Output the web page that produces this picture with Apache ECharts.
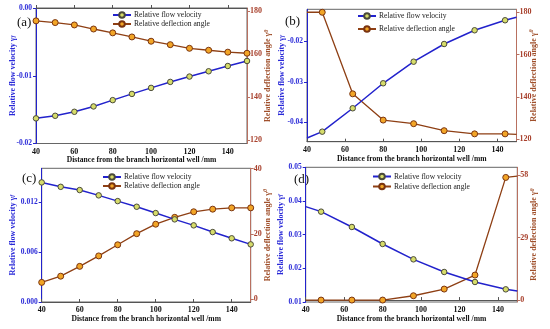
<!DOCTYPE html>
<html><head><meta charset="utf-8">
<script src="https://cdn.jsdelivr.net/npm/echarts@6/dist/echarts.min.js"></script>
<style>html,body{margin:0;padding:0;background:#fff}#c{width:550px;height:329px}</style>
</head><body><div id="c"></div>
<script>
// ---- data ----
const xA = [40,50,60,70,80,90,100,110,120,130,140,150];
const velA = [-0.01629,-0.01591,-0.01532,-0.01453,-0.01360,-0.01268,-0.01179,-0.01091,-0.01012,-0.00934,-0.00856,-0.00782];
const angA = [175.6,174.8,173.7,171.8,170.0,168.1,166.1,164.5,162.8,161.9,161.0,160.5];
const xB = [40,48,64,80,96,112,128,144,150];
const velB = [-0.04388,-0.04232,-0.03654,-0.03037,-0.02504,-0.02067,-0.01728,-0.01481,-0.01407];
const angB = [180,180,141.5,129.1,127.4,124.1,122.6,122.6,122.4];
const xC = [40,50,60,70,80,90,100,110,120,130,140,150];
const velC = [0.01440,0.01387,0.01348,0.01284,0.01215,0.01147,0.01071,0.00995,0.00923,0.00842,0.00767,0.00694];
const angC = [5.2,7.1,10.1,13.3,16.7,20.1,23.0,25.1,26.8,27.6,28.0,28.0];
const xD = [40,48,64,80,96,112,128,144,150];
const velD = [0.03832,0.03683,0.03228,0.02723,0.02267,0.01891,0.01594,0.01376,0.01327];
const angD = [0,0,0,0,2.0,5.1,11.6,56.9,57.5];

const xTicks = [40,60,80,100,120,140];
const leftTicksA = [-0.02,-0.01,0.00];
const rightTicksA = [120,140,160,180];
const leftTicksB = [-0.04,-0.03,-0.02];
const rightTicksB = [120,140,160,180];
const leftTicksC = [0.000,0.006,0.012];
const rightTicksC = [0,20,40];
const leftTicksD = [0.01,0.02,0.03,0.04,0.05];
const rightTicksD = [0,29,58];

const panelLabels = ['(a)','(b)','(c)','(d)'];
const seriesNames = ['Relative flow velocity','Relative deflection angle'];
const xName = 'Distance from the branch horizontal well /mm';

// ---- style ----
const FONT = 'Liberation Serif';
const BLUE = '#2222cc', BLUE_T = '#2a2ad8';
const BROWN = '#8e3f14', RED_T = '#a8402c', RAXIS = '#b87060';
const grids = [
  {left:36, top:8, width:211, height:135.5},
  {left:307, top:9.3, width:209.5, height:132.4},
  {left:41.7, top:168.3, width:209, height:133.7},
  {left:305.7, top:167.3, width:211.6, height:134.7}
];
const leftRanges = [[-0.02,0],[-0.0448,-0.0121],[0,0.0161],[0.01,0.05]];
const rightRanges = [[118.4,181.6],[118.9,181.4],[-0.8,40.1],[-0.9,61.6]];
const leftTicks = [leftTicksA,leftTicksB,leftTicksC,leftTicksD];
const rightTicks = [rightTicksA,rightTicksB,rightTicksC,rightTicksD];
const leftDec = [2,2,3,2];
const leftGap = [19,21,25,21];
const rightGap = [16,12,12,12];
const xs = [xA,xB,xC,xD], vels=[velA,velB,velC,velD], angs=[angA,angB,angC,angD];
const legendPos = [
  {left:112, top:11, itemGap:1},
  {left:357, top:12, itemGap:5},
  {left:102, top:173, itemGap:1},
  {left:372, top:172.5, itemGap:2}
];
const labelPos = [[17,16],[285,15],[22,172],[294,173]];

const xAxes=[], yAxes=[], series=[], legends=[], graphics=[];
for (let i=0;i<4;i++){
  xAxes.push({type:'value', gridIndex:i, min:40, max:150,
    name:xName, nameLocation:'middle', nameGap:13, nameMoveOverlap:false,
    nameTextStyle:{fontFamily:FONT, fontWeight:'bold', fontSize:7.6, color:'#111'},
    axisLine:{lineStyle:{color:'#555', width:1}},
    axisTick:{inside:true, length:3, customValues:xTicks, lineStyle:{color:'#555'}},
    axisLabel:{customValues:xTicks, margin:4, fontFamily:FONT, fontWeight:'bold', fontSize:8, color:'#111'},
    splitLine:{show:false}});
  const d = leftDec[i];
  yAxes.push({type:'value', gridIndex:i, position:'left', min:leftRanges[i][0], max:leftRanges[i][1],
    name:'Relative flow velocity γ{s|f}', nameLocation:'middle', nameGap:leftGap[i], nameRotate:90, nameMoveOverlap:false,
    nameTextStyle:{fontFamily:FONT, fontWeight:'bold', fontSize:8, color:BLUE_T,
      rich:{s:{fontFamily:FONT, fontStyle:'italic', fontWeight:'bold', fontSize:6, color:BLUE_T}}},
    axisLine:{show:true, lineStyle:{color:BLUE, width:1}},
    axisTick:{length:3, customValues:leftTicks[i], lineStyle:{color:BLUE}},
    axisLabel:{customValues:leftTicks[i], margin:4, fontFamily:FONT, fontWeight:'bold', fontSize:7.5, color:BLUE_T,
      formatter:v=>(Math.abs(v)<1e-12?0:v).toFixed(d)},
    splitLine:{show:false}});
  yAxes.push({type:'value', gridIndex:i, position:'right', min:rightRanges[i][0], max:rightRanges[i][1],
    name:'Relative deflection angle γ{s|θ}', nameLocation:'middle', nameGap:rightGap[i], nameRotate:90, nameMoveOverlap:false,
    nameTextStyle:{fontFamily:FONT, fontWeight:'bold', fontSize:8, color:'#a0502c',
      rich:{s:{fontFamily:FONT, fontStyle:'italic', fontWeight:'bold', fontSize:6, color:'#a0502c', padding:[0,0,4,0]}}},
    axisLine:{show:true, lineStyle:{color:RAXIS, width:1}},
    axisTick:{length:3, customValues:rightTicks[i], lineStyle:{color:RAXIS}},
    axisLabel:{customValues:rightTicks[i], margin:3, fontFamily:FONT, fontWeight:'bold', fontSize:8, color:RED_T},
    splitLine:{show:false}});
  const x = xs[i];
  const mk = (arr)=>arr.map((v,k)=>{
    const it = {value:[x[k], v]};
    if ((x[k]===40 || x[k]===150) && (i===1||i===3)) it.symbol='none';
    return it;
  });
  series.push({type:'line', name:seriesNames[0], xAxisIndex:i, yAxisIndex:2*i, data:mk(vels[i]),
    symbol:'circle', symbolSize:5.5, lineStyle:{color:BLUE, width:1.5}, z:3,
    itemStyle:{color:'#d6dc6a', borderColor:'#4a4a3a', borderWidth:1}});
  series.push({type:'line', name:seriesNames[1], xAxisIndex:i, yAxisIndex:2*i+1, data:mk(angs[i]),
    symbol:'circle', symbolSize:6, lineStyle:{color:BROWN, width:1.3}, z:2,
    itemStyle:{color:'#f2a526', borderColor:'#7a3410', borderWidth:1}});
  legends.push(Object.assign({orient:'vertical', data:seriesNames, itemWidth:18, itemHeight:7,
    textStyle:{fontFamily:FONT, fontSize:7.6, color:'#222', padding:[0,0,0,-2]}, padding:0, selectedMode:false}, legendPos[i]));
  graphics.push({type:'text', left:labelPos[i][0], top:labelPos[i][1],
    style:{text:panelLabels[i], font:'13px "Liberation Serif"', fill:'#111'}});
}
grids.forEach(g=>{g.show=true; g.borderColor='#666'; g.borderWidth=1; g.backgroundColor='transparent';});

const chart = echarts.init(document.getElementById('c'), null, {renderer:'canvas'});
chart.setOption({animation:false, backgroundColor:'#fff', grid:grids, xAxis:xAxes, yAxis:yAxes,
  series:series, legend:legends, graphic:graphics});
</script></body></html>
